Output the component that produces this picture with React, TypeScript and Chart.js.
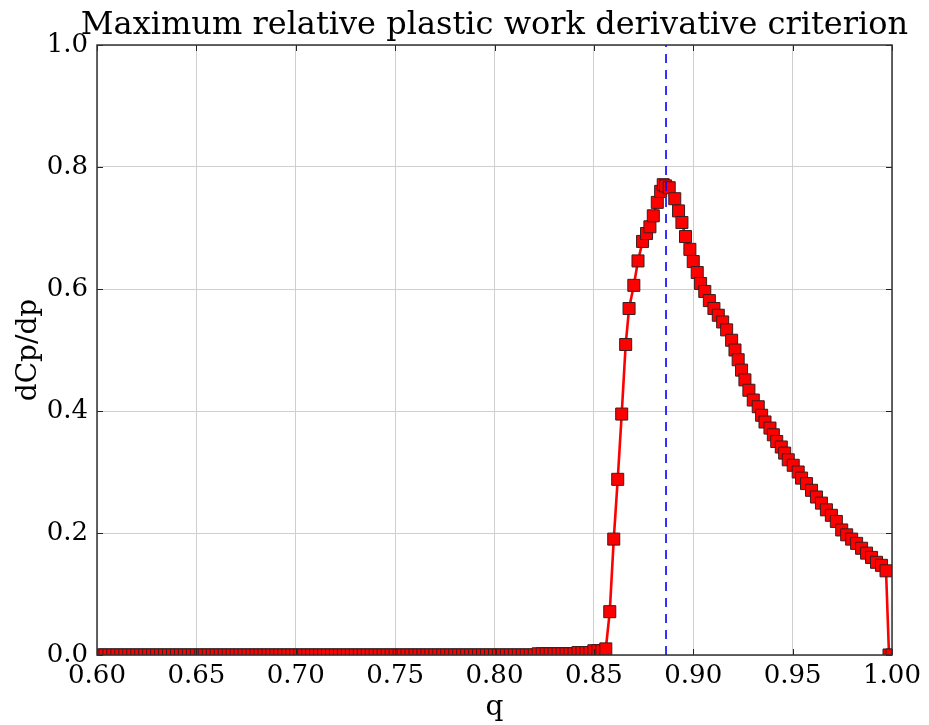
import React, { useEffect, useRef } from 'react';
import { Chart, registerables } from 'chart.js';

Chart.register(...registerables);

const TITLE = 'Maximum relative plastic work derivative criterion';
const X_LABEL = 'q';
const Y_LABEL = 'dCp/dp';

// q samples (x axis)
const qValues = [
  0.600, 0.602, 0.604, 0.606, 0.608, 0.610, 0.612, 0.614, 0.616, 0.618,
  0.620, 0.622, 0.624, 0.626, 0.628, 0.630, 0.632, 0.634, 0.636, 0.638,
  0.640, 0.642, 0.644, 0.646, 0.648, 0.650, 0.652, 0.654, 0.656, 0.658,
  0.660, 0.662, 0.664, 0.666, 0.668, 0.670, 0.672, 0.674, 0.676, 0.678,
  0.680, 0.682, 0.684, 0.686, 0.688, 0.690, 0.692, 0.694, 0.696, 0.698,
  0.700, 0.702, 0.704, 0.706, 0.708, 0.710, 0.712, 0.714, 0.716, 0.718,
  0.720, 0.722, 0.724, 0.726, 0.728, 0.730, 0.732, 0.734, 0.736, 0.738,
  0.740, 0.742, 0.744, 0.746, 0.748, 0.750, 0.752, 0.754, 0.756, 0.758,
  0.760, 0.762, 0.764, 0.766, 0.768, 0.770, 0.772, 0.774, 0.776, 0.778,
  0.780, 0.782, 0.784, 0.786, 0.788, 0.790, 0.792, 0.794, 0.796, 0.798,
  0.800, 0.802, 0.804, 0.806, 0.808, 0.810, 0.812, 0.814, 0.816, 0.818,
  0.820, 0.822, 0.824, 0.826, 0.828, 0.830, 0.832, 0.834, 0.836, 0.838,
  0.840, 0.842, 0.844, 0.846, 0.848, 0.850, 0.852, 0.854, 0.856, 0.858,
  0.860, 0.862, 0.864, 0.866, 0.8677, 0.8701, 0.8722, 0.8745, 0.8765, 0.8782,
  0.8799, 0.8819, 0.8836, 0.8849, 0.8861, 0.8879, 0.8907, 0.8926, 0.8943, 0.8961,
  0.8983, 0.9000, 0.9020, 0.9037, 0.9058, 0.9081, 0.9104, 0.9126, 0.9148, 0.9168,
  0.9193, 0.9210, 0.9226, 0.9243, 0.9260, 0.9280, 0.9302, 0.9327, 0.9344, 0.9361,
  0.9386, 0.9403, 0.9420, 0.9443, 0.9460, 0.9478, 0.9503, 0.9528, 0.9545, 0.9570,
  0.9595, 0.9620, 0.9645, 0.9670, 0.9695, 0.9720, 0.9747, 0.9772, 0.9797, 0.9822,
  0.9847, 0.9872, 0.9897, 0.9922, 0.9947, 0.9970, 0.9985, 1.0000,
];

// dCp/dp values (y axis)
const dcpValues = [
  0, 0, 0, 0, 0, 0, 0, 0, 0, 0,
  0, 0, 0, 0, 0, 0, 0, 0, 0, 0,
  0, 0, 0, 0, 0, 0, 0, 0, 0, 0,
  0, 0, 0, 0, 0, 0, 0, 0, 0, 0,
  0, 0, 0, 0, 0, 0, 0, 0, 0, 0,
  0, 0, 0, 0, 0, 0, 0, 0, 0, 0,
  0, 0, 0, 0, 0, 0, 0, 0, 0, 0,
  0, 0, 0, 0, 0, 0, 0, 0, 0, 0,
  0, 0, 0, 0, 0, 0, 0, 0, 0, 0,
  0, 0, 0, 0, 0, 0, 0, 0, 0, 0,
  0, 0, 0, 0, 0, 0, 0, 0, 0, 0,
  0, 0.002, 0.002, 0.002, 0.002, 0.002, 0.002, 0.002, 0.002, 0.002,
  0.002, 0.004, 0.004, 0.004, 0.004, 0.007, 0.007, 0.007, 0.010, 0.071,
  0.190, 0.288, 0.395, 0.509, 0.568, 0.606, 0.646, 0.678, 0.691, 0.702,
  0.720, 0.742, 0.760, 0.771, 0.769, 0.766, 0.748, 0.728, 0.709, 0.686,
  0.665, 0.645, 0.627, 0.609, 0.596, 0.581, 0.568, 0.557, 0.546, 0.533,
  0.516, 0.500, 0.484, 0.467, 0.451, 0.434, 0.418, 0.407, 0.393, 0.382,
  0.372, 0.361, 0.350, 0.341, 0.331, 0.320, 0.311, 0.300, 0.290, 0.281,
  0.270, 0.259, 0.249, 0.238, 0.229, 0.219, 0.205, 0.197, 0.190, 0.183,
  0.175, 0.167, 0.160, 0.152, 0.147, 0.138, 0, 0,
];

// vertical dashed marker at the maximum
const criterionQ = 0.8863;
const criterionSpan = [0, 1];

const X_MIN = 0.6;
const X_MAX = 1.0;
const X_STEP = 0.05;
const Y_MIN = 0;
const Y_MAX = 1.0;
const Y_STEP = 0.2;

const FONT_FAMILY = "'DejaVu Serif', serif";

// Let the (non full-size) title box be wider than the plot so the text is
// centred on the axes without being squeezed to the plot width.
const titleWidenPlugin = {
  id: 'titleWiden',
  afterLayout(chart: any) {
    const t = chart.titleBlock;
    if (!t) return;
    const extra = 60;
    t.left -= extra;
    t.right += extra;
    t.width = t.right - t.left;
  },
};

const framePlugin = {
  id: 'mplFrame',
  afterDatasetsDraw(chart: any) {
    const { ctx, chartArea, scales } = chart;
    const { left, right, top, bottom } = chartArea;
    const tickLen = 6;
    ctx.save();
    ctx.strokeStyle = '#222';
    ctx.lineWidth = 1;
    ctx.beginPath();
    scales.x.ticks.forEach((t: any) => {
      const p = Math.round(scales.x.getPixelForValue(t.value)) + 0.5;
      ctx.moveTo(p, bottom);
      ctx.lineTo(p, bottom - tickLen);
      ctx.moveTo(p, top);
      ctx.lineTo(p, top + tickLen);
    });
    scales.y.ticks.forEach((t: any) => {
      const p = Math.round(scales.y.getPixelForValue(t.value)) + 0.5;
      ctx.moveTo(left, p);
      ctx.lineTo(left + tickLen, p);
      ctx.moveTo(right, p);
      ctx.lineTo(right - tickLen, p);
    });
    ctx.stroke();
    ctx.lineWidth = 1.5;
    ctx.strokeStyle = '#333';
    ctx.strokeRect(left, top, right - left, bottom - top);
    ctx.restore();
  },
};

export default function App() {
  const canvasRef = useRef<HTMLCanvasElement>(null);

  useEffect(() => {
    const canvas = canvasRef.current;
    if (!canvas) return;
    const tickFont = { family: FONT_FAMILY, size: 26, weight: 'normal' as const };
    const labelFont = { family: FONT_FAMILY, size: 28, weight: 'normal' as const };

    const chart = new Chart(canvas, {
      type: 'line',
      data: {
        datasets: [
          {
            label: 'criterion',
            data: criterionSpan.map((y) => ({ x: criterionQ, y })),
            borderColor: '#0000ff',
            borderWidth: 1.6,
            borderDash: [9, 7],
            pointRadius: 0,
            order: 0,
            clip: 0,
          } as any,
          {
            label: Y_LABEL,
            data: qValues.map((q, i) => ({ x: q, y: dcpValues[i] })),
            borderColor: '#ff0000',
            borderWidth: 2.6,
            tension: 0,
            pointStyle: 'rect',
            pointRadius: 8.5,
            pointBackgroundColor: '#ff0000',
            pointBorderColor: '#3a1e1e',
            pointBorderWidth: 1,
            order: 1,
            clip: 0,
          } as any,
        ],
      },
      options: {
        animation: false,
        responsive: false,
        events: [],
        layout: { padding: { left: 0, right: 37, top: 0, bottom: 0 } },
        plugins: {
          legend: { display: false },
          tooltip: { enabled: false },
          title: {
            display: true,
            fullSize: false,
            text: TITLE,
            color: '#000',
            font: { family: FONT_FAMILY, size: 32, weight: 'normal', lineHeight: 1.2 },
            padding: { top: 6, bottom: 0.6 },
          },
        },
        scales: {
          x: {
            type: 'linear',
            min: X_MIN,
            max: X_MAX,
            ticks: {
              stepSize: X_STEP,
              autoSkip: false,
              maxRotation: 0,
              color: '#000',
              font: tickFont,
              padding: 6,
              callback: (v: any) => Number(v).toFixed(2),
            },
            grid: { color: '#cfcfcf', lineWidth: 1, drawTicks: false },
            border: { display: false },
            title: {
              display: true,
              text: X_LABEL,
              color: '#000',
              font: labelFont,
              padding: { top: 0, bottom: 0 },
            },
            afterFit: (s: any) => {
              s.height = 70;
            },
          },
          y: {
            type: 'linear',
            min: Y_MIN,
            max: Y_MAX,
            ticks: {
              stepSize: Y_STEP,
              autoSkip: false,
              color: '#000',
              font: tickFont,
              padding: 9,
              callback: (v: any) => Number(v).toFixed(1),
            },
            grid: { color: '#cfcfcf', lineWidth: 1, drawTicks: false },
            border: { display: false },
            title: {
              display: true,
              text: Y_LABEL,
              color: '#000',
              font: labelFont,
              padding: { top: 12, bottom: 0 },
            },
            afterFit: (s: any) => {
              s.width = 97;
            },
          },
        },
      },
      plugins: [titleWidenPlugin, framePlugin],
    });

    return () => chart.destroy();
  }, []);

  return (
    <div style={{ position: 'fixed', left: 0, top: 0, width: 929, height: 725, background: '#fff' }}>
      <canvas ref={canvasRef} width={929} height={725} style={{ display: 'block', width: 929, height: 725 }} />
    </div>
  );
}
